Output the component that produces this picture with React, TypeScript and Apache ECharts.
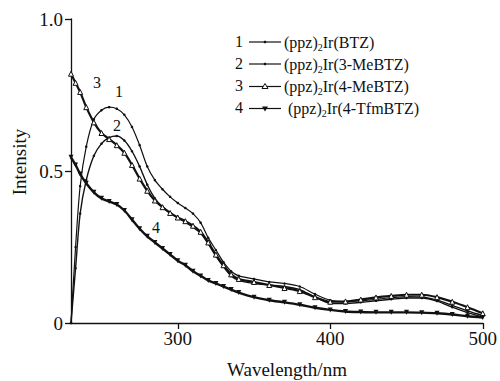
import React, { useEffect, useRef } from "react";
import * as echarts from "echarts";

const wavelengths = [230, 233, 236, 240, 245, 250, 255, 260, 265, 270, 275, 280, 285, 290, 295, 300, 305, 310, 315, 320, 325, 330, 335, 340, 350, 360, 370, 380, 390, 400, 410, 420, 430, 440, 450, 460, 470, 480, 490, 500];

const btz = [0.0, 0.25, 0.45, 0.58, 0.67, 0.70, 0.71, 0.705, 0.685, 0.645, 0.585, 0.515, 0.47, 0.44, 0.415, 0.395, 0.378, 0.36, 0.33, 0.28, 0.24, 0.2, 0.17, 0.155, 0.145, 0.135, 0.13, 0.12, 0.095, 0.075, 0.07, 0.073, 0.078, 0.083, 0.087, 0.086, 0.075, 0.058, 0.04, 0.025];
const me3 = [0.0, 0.18, 0.36, 0.47, 0.55, 0.59, 0.61, 0.615, 0.6, 0.565, 0.515, 0.455, 0.41, 0.382, 0.362, 0.346, 0.331, 0.315, 0.295, 0.26, 0.22, 0.185, 0.155, 0.14, 0.13, 0.125, 0.12, 0.11, 0.085, 0.065, 0.064, 0.068, 0.073, 0.078, 0.082, 0.082, 0.072, 0.052, 0.034, 0.02];
const me4 = [0.82, 0.79, 0.76, 0.71, 0.66, 0.625, 0.605, 0.585, 0.56, 0.52, 0.475, 0.435, 0.403, 0.381, 0.362, 0.347, 0.335, 0.32, 0.3, 0.265, 0.225, 0.19, 0.16, 0.145, 0.135, 0.125, 0.115, 0.105, 0.085, 0.07, 0.071, 0.077, 0.084, 0.089, 0.093, 0.093, 0.085, 0.07, 0.052, 0.032];
const tfm = [0.545, 0.52, 0.49, 0.46, 0.43, 0.41, 0.4, 0.39, 0.37, 0.34, 0.31, 0.285, 0.265, 0.245, 0.225, 0.205, 0.19, 0.17, 0.155, 0.14, 0.13, 0.12, 0.11, 0.1, 0.085, 0.075, 0.068, 0.06, 0.05, 0.043, 0.038, 0.036, 0.035, 0.035, 0.035, 0.034, 0.032, 0.028, 0.022, 0.018];

const seriesNames = ["(ppz)2Ir(BTZ)", "(ppz)2Ir(3-MeBTZ)", "(ppz)2Ir(4-MeBTZ)", "(ppz)2Ir(4-TfmBTZ)"];
const legendRich = ["(ppz){s|2}Ir(BTZ)", "(ppz){s|2}Ir(3-MeBTZ)", "(ppz){s|2}Ir(4-MeBTZ)", "(ppz){s|2}Ir(4-TfmBTZ)"];
const xTicks = [300, 400, 500];

const FONT = "'Liberation Serif', 'Times New Roman', serif";
const INK = "#111";

export default function App() {
  const ref = useRef<HTMLDivElement>(null);
  useEffect(() => {
    if (!ref.current) return;
    const chart = echarts.init(ref.current, null, { renderer: "svg" });
    const pair = (ys: number[]) => wavelengths.map((w, i) => [w, ys[i]]);
    const mk = (name: string, ys: number[], symbol: string, size: number, lw: number, hollow: boolean) => ({
      name,
      type: "line",
      smooth: 0.3,
      data: pair(ys),
      symbol,
      symbolSize: size,
      showSymbol: true,
      lineStyle: { color: INK, width: lw },
      itemStyle: { color: hollow ? "#fff" : INK, borderColor: INK, borderWidth: hollow ? 1 : 0 },
      z: 3,
    });
    const legendRows = [42, 64, 86.5, 108.5];
    const legendSymbols = ["circle", "circle", "tri", "dtri"];
    const graphic: any[] = [];
    legendRows.forEach((y, i) => {
      graphic.push({ type: "text", left: 235, top: y - 9, style: { text: String(i + 1), font: `16px ${FONT}`, fill: INK } });
      graphic.push({ type: "line", shape: { x1: 249, y1: y, x2: 281, y2: y }, style: { stroke: INK, lineWidth: 1.2 } });
      const s = legendSymbols[i];
      if (s === "circle") graphic.push({ type: "circle", shape: { cx: 265, cy: y, r: 1.3 }, style: { fill: INK } });
      if (s === "tri") graphic.push({ type: "polygon", shape: { points: [[265, y - 3], [262, y + 2], [268, y + 2]] }, style: { fill: "#fff", stroke: INK, lineWidth: 1 } });
      if (s === "dtri") graphic.push({ type: "polygon", shape: { points: [[265, y + 3], [262, y - 2], [268, y - 2]] }, style: { fill: INK } });
      graphic.push({
        type: "text",
        left: i === 3 ? 288 : 284,
        top: y - 10,
        style: {
          text: legendRich[i],
          font: `16px ${FONT}`,
          fill: INK,
          rich: {
            s: { fontSize: 10, fontFamily: FONT, fill: INK, verticalAlign: "bottom", lineHeight: 8 },
          },
          lineHeight: 20,
        },
      });
    });
    const curveLabels = [
      { t: "3", x: 93, y: 74 },
      { t: "1", x: 115, y: 83 },
      { t: "2", x: 113, y: 117 },
      { t: "4", x: 152, y: 219 },
    ];
    curveLabels.forEach((c) => {
      graphic.push({ type: "text", left: c.x, top: c.y, style: { text: c.t, font: `16px ${FONT}`, fill: INK } });
    });
    graphic.push({
      type: "text",
      x: 19,
      y: 162,
      rotation: Math.PI / 2,
      style: { text: "Intensity", font: `19px ${FONT}`, fill: INK, align: "center", verticalAlign: "middle" },
    });
    graphic.push({
      type: "text",
      x: 287,
      y: 369,
      style: { text: "Wavelength/nm", font: `19px ${FONT}`, fill: INK, align: "center", verticalAlign: "middle" },
    });

    chart.setOption({
      animation: false,
      backgroundColor: "#fff",
      grid: { left: 71, right: 16, top: 19, bottom: 58, containLabel: false },
      xAxis: {
        type: "value",
        min: 230,
        max: 500,
        axisLine: { show: true, lineStyle: { color: INK, width: 1.3 } },
        axisTick: { show: true, length: 6, inside: false, customValues: xTicks, lineStyle: { color: INK, width: 1.3 } },
        axisLabel: { customValues: xTicks, fontFamily: FONT, fontSize: 19, color: INK, margin: 6 },
        splitLine: { show: false },
      },
      yAxis: {
        type: "value",
        min: 0,
        max: 1,
        interval: 0.5,
        axisLine: { show: true, lineStyle: { color: INK, width: 1.3 } },
        axisTick: { show: true, length: 6, lineStyle: { color: INK, width: 1.3 } },
        axisLabel: {
          fontFamily: FONT,
          fontSize: 19,
          color: INK,
          margin: 8,
          formatter: (v: number) => (v === 0 ? "0" : v.toFixed(1)),
        },
        splitLine: { show: false },
      },
      series: [
        mk(seriesNames[0], btz, "circle", 2.5, 1.2, false),
        mk(seriesNames[1], me3, "circle", 2.5, 1.4, false),
        mk(seriesNames[2], me4, "triangle", 5, 2.2, true),
        { ...mk(seriesNames[3], tfm, "triangle", 5, 2.4, false), symbolRotate: 180 },
      ],
      graphic,
    });
    return () => chart.dispose();
  }, []);
  return <div ref={ref} style={{ width: 500, height: 381, position: "absolute", left: 0, top: 0 }} />;
}
